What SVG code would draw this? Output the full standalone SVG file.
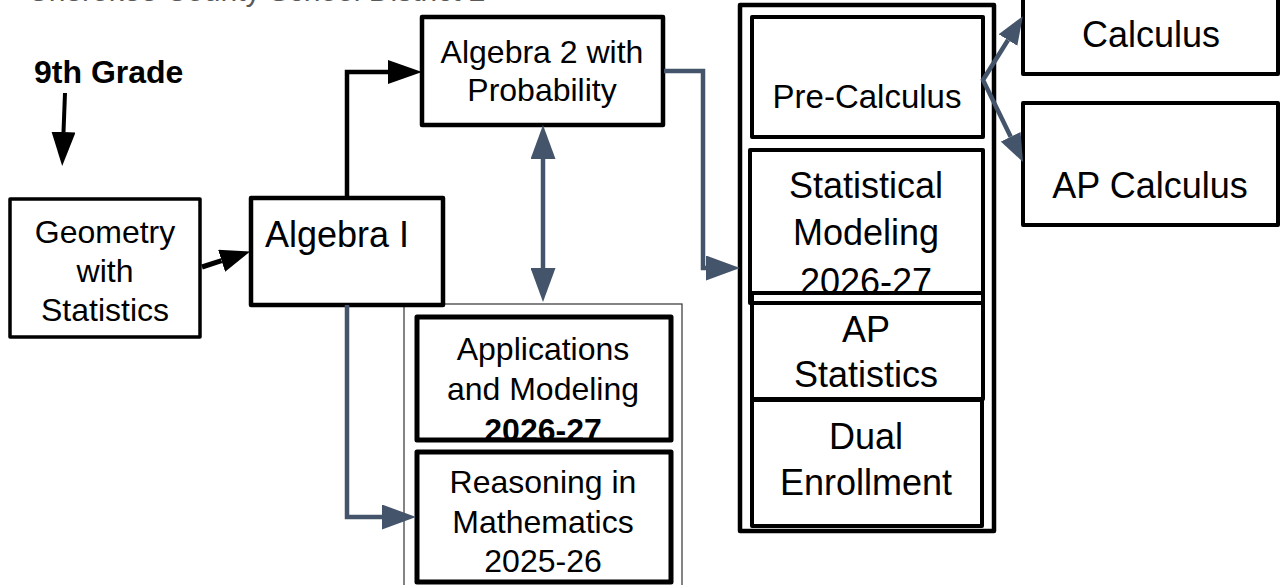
<svg xmlns="http://www.w3.org/2000/svg" width="1288" height="585" viewBox="0 0 1288 585">
<style>
text{font-family:"Liberation Sans",Arial,sans-serif;fill:#000}
.m{font-size:32px;text-anchor:middle}
.l{font-size:36px;text-anchor:middle}
.box{fill:#fff;stroke:#000;stroke-width:4.5;stroke-linejoin:round}
.frame{fill:none;stroke:#000;stroke-width:4.5;stroke-linejoin:round}
.blk{fill:none;stroke:#000;stroke-width:4.5}
.blu{fill:none;stroke:#44546a;stroke-width:4.5}
</style>
<defs>
<marker id="hb" viewBox="0 0 10 10" preserveAspectRatio="none" refX="0" refY="5" markerWidth="34" markerHeight="24" markerUnits="userSpaceOnUse" orient="auto-start-reverse"><path d="M0,0L10,5L0,10z" fill="#000"/></marker>
<marker id="hs" viewBox="0 0 10 10" preserveAspectRatio="none" refX="0" refY="5" markerWidth="30" markerHeight="23" markerUnits="userSpaceOnUse" orient="auto-start-reverse"><path d="M0,0L10,5L0,10z" fill="#000"/></marker>
<marker id="hu" viewBox="0 0 10 10" preserveAspectRatio="none" refX="0" refY="5" markerWidth="34" markerHeight="25" markerUnits="userSpaceOnUse" orient="auto-start-reverse"><path d="M0,0L10,5L0,10z" fill="#44546a"/></marker>
<marker id="hv" viewBox="0 0 10 10" preserveAspectRatio="none" refX="0" refY="5" markerWidth="28" markerHeight="22" markerUnits="userSpaceOnUse" orient="auto-start-reverse"><path d="M0,0L10,5L0,10z" fill="#44546a"/></marker>
</defs>
<rect width="1288" height="585" fill="#fff"/>
<text x="27" y="1" style="font-size:30px;fill:#595959">Cherokee County School District 2</text>
<g id="grade9"><text x="34" y="83" style="font-size:32px;font-weight:bold">9th Grade</text></g>

<g id="container-apps"><rect x="404" y="304" width="278" height="292" fill="none" stroke="#333" stroke-width="1.2"/></g>

<g id="geometry"><rect class="box" x="10" y="199" width="190" height="138" style="stroke-width:3.5"/>
<text class="m" x="105" y="243">Geometry</text><text class="m" x="105" y="282">with</text><text class="m" x="105" y="321">Statistics</text></g>

<g id="algebra1"><rect class="box" x="251" y="198" width="192" height="107"/>
<text x="265" y="247" style="font-size:36px">Algebra I</text></g>

<g id="algebra2"><rect class="box" x="422" y="17" width="241" height="108"/>
<text class="m" x="542" y="63">Algebra 2 with</text><text class="m" x="542" y="101">Probability</text></g>

<g id="applications"><rect x="417" y="317" width="254" height="123" fill="#fff"/>
<text class="m" x="543" y="360">Applications</text><text class="m" x="543" y="400">and Modeling</text><text class="m" x="543" y="441" style="font-weight:bold">2026-27</text>
<rect class="frame" x="417" y="317" width="254" height="123" style="stroke-width:5"/></g>

<g id="reasoning"><rect class="box" x="417" y="452" width="254" height="130" style="stroke-width:5"/>
<text class="m" x="543" y="493">Reasoning in</text><text class="m" x="543" y="533">Mathematics</text><text class="m" x="543" y="572">2025-26</text></g>

<g id="advanced-group"><rect class="box" x="740" y="5" width="254" height="526"/></g>

<g id="precalculus"><rect class="box" x="752" y="17" width="231" height="120" style="stroke-width:4"/>
<text x="867" y="108" style="font-size:33px;text-anchor:middle">Pre-Calculus</text></g>

<g id="statmodeling"><rect class="box" x="750" y="150" width="233" height="153" style="stroke-width:4"/>
<text class="l" x="866" y="198">Statistical</text><text class="l" x="866" y="245">Modeling</text><text class="l" x="866" y="294">2026-27</text></g>

<g id="apstats"><rect x="752" y="295" width="231" height="104" fill="#fff"/>
<rect class="frame" x="752" y="293" width="231" height="106" style="stroke-width:4"/>
<line x1="752" y1="303" x2="983" y2="303" stroke="#000" stroke-width="4"/>
<text class="l" x="866" y="342">AP</text><text class="l" x="866" y="387">Statistics</text></g>

<g id="dual"><rect class="box" x="752" y="400" width="230" height="126" style="stroke-width:4"/>
<text class="l" x="866" y="449">Dual</text><text class="l" x="866" y="495">Enrollment</text></g>

<g id="calculus"><rect class="box" x="1023" y="-10" width="255" height="84" style="stroke-width:4"/>
<text class="l" x="1151" y="47">Calculus</text></g>

<g id="apcalculus"><rect class="box" x="1023" y="103" width="255" height="122" style="stroke-width:4"/>
<text class="l" x="1150" y="198">AP Calculus</text></g>

<g id="connectors">
<path class="blk" d="M65,93 L63.5,132" marker-end="url(#hb)" style="stroke-width:4"/>
<path class="blk" d="M202,267 L221.6,260.7" marker-end="url(#hs)" style="stroke-width:5"/>
<path class="blk" d="M347,198 V72 H388" marker-end="url(#hb)"/>
<path class="blu" d="M664,71 H703 V268 H706" marker-end="url(#hu)"/>
<path class="blu" d="M543,159 V268" marker-start="url(#hu)" marker-end="url(#hu)"/>
<path class="blu" d="M347,305 V517 H382" marker-end="url(#hu)"/>
<path class="blu" d="M1008,40 L983,80 L1010.7,136.8" marker-start="url(#hv)" marker-end="url(#hv)"/>
</g>
</svg>
